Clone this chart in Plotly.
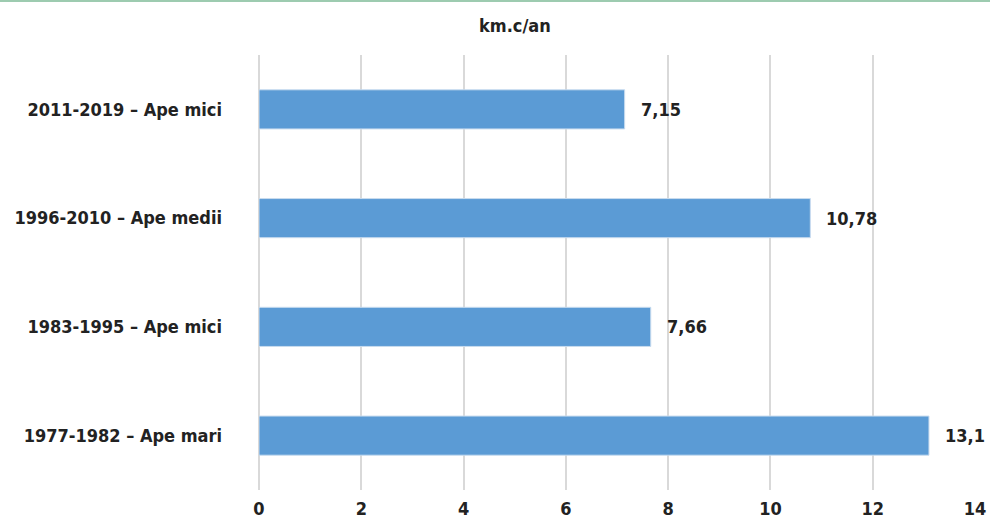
import plotly.graph_objects as go

# Average annual volume per period (km.c/an)
categories = ["1977-1982 – Ape mari", "1983-1995 – Ape mici",
              "1996-2010 – Ape medii", "2011-2019 – Ape mici"]
values = [13.1, 7.66, 10.78, 7.15]
value_labels = ["13,1", "7,66", "10,78", "7,15"]
x_ticks = [0, 2, 4, 6, 8, 10, 12, 14]

W, H = 990, 522
L, R, T, B = 259, 15, 55, 32
PH = H - T - B
FONT = "DejaVu Sans Condensed"
TXT = "#222222"
FS = 18

def tf(size=FS):
    return dict(family=FONT, size=size, color=TXT, weight="bold")

fig = go.Figure()
fig.add_trace(go.Bar(
    x=values, y=categories, orientation="h",
    marker=dict(color="#5b9bd5", line=dict(color="#c9dcef", width=1)),
    width=0.36, hoverinfo="skip",
))

for v, lab, cat in zip(values, value_labels, categories):
    fig.add_annotation(x=v, y=cat, text=lab, showarrow=False,
                       xanchor="left", xshift=14, font=tf())

fig.add_annotation(x=(515 - L) / (W - L - R), y=1 + (T - 25) / PH,
                   xref="paper", yref="paper", xanchor="center", yanchor="middle",
                   text="km.c/an", showarrow=False, font=tf())

# thin accent line along the top edge
fig.add_shape(type="line", xref="paper", yref="paper",
              x0=-L / (W - L - R), x1=1 + R / (W - L - R),
              y0=1 + (T - 1) / PH, y1=1 + (T - 1) / PH,
              line=dict(color="#9dcbb0", width=2))

fig.update_layout(
    width=W, height=H, margin=dict(l=L, r=R, t=T, b=B, autoexpand=False),
    paper_bgcolor="white", plot_bgcolor="white", showlegend=False,
    font=dict(family=FONT, color=TXT),
    xaxis=dict(range=[0, 14], tickvals=x_ticks, ticktext=[str(t) for t in x_ticks],
               showgrid=True, gridcolor="#d9d9d9", gridwidth=1.5,
               zeroline=True, zerolinecolor="#d9d9d9", zerolinewidth=1.5,
               showline=False, ticks="", ticklen=0, automargin=False,
               ticklabelstandoff=6, tickfont=tf()),
    yaxis=dict(categoryorder="array", categoryarray=categories,
               showgrid=False, zeroline=False, showline=False, ticks="",
               ticklabelstandoff=36, automargin=False,
               tickfont=tf()),
)

fig.write_html("out.html")
